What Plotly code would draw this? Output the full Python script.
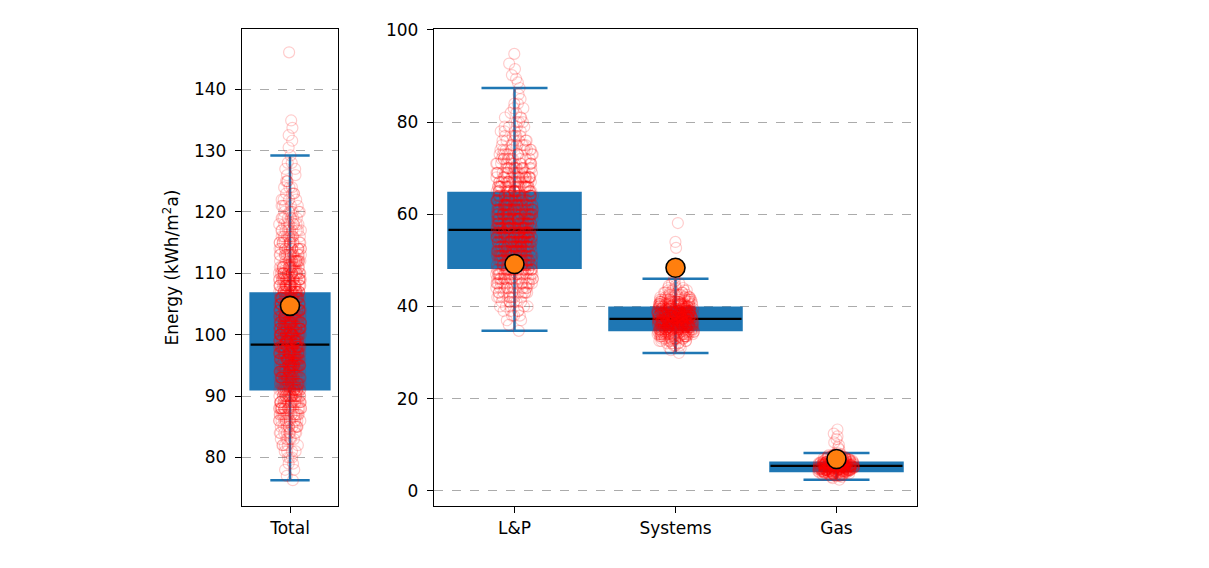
import plotly.graph_objects as go

# ---------------- data ----------------
total_labels = ["Total"]
parts_labels = ["L&P", "Systems", "Gas"]

total_q1 = [91.1]
total_median = [98.4]
total_q3 = [106.7]
total_whisker_low = [76.3]
total_whisker_high = [129.2]
total_actual = [104.7]

parts_q1 = [48.4, 34.9, 4.3]
parts_median = [56.6, 37.3, 5.4]
parts_q3 = [64.6, 39.7, 6.1]
parts_whisker_low = [34.7, 29.9, 2.4]
parts_whisker_high = [87.4, 46.0, 8.2]
parts_actual = [49.2, 48.4, 6.9]

# sample clouds, estimated as value -> number of samples, plus single outliers
total_values = [76.3, 77, 78, 79, 80, 81, 82, 83, 84, 85,
                86, 87, 88, 89, 90, 91, 92, 93, 94, 95,
                96, 97, 98, 99, 100, 101, 102, 103, 104, 105,
                106, 107, 108, 109, 110, 111, 112, 113, 114, 115,
                116, 117, 118, 119, 120, 121, 122, 123, 124, 125,
                126, 127, 128, 129.2]
total_counts = [1, 1, 2, 2, 3, 4, 5, 6, 8, 10,
                12, 15, 17, 20, 22, 25, 27, 29, 31, 33,
                34, 35, 36, 36, 35, 35, 34, 33, 32, 30,
                29, 27, 25, 23, 21, 19, 17, 15, 13, 12,
                10, 9, 8, 7, 6, 5, 4, 4, 3, 3,
                2, 2, 2, 1]
total_outliers = [130.5, 131.6, 132.5, 133.7, 134.9, 146.0]

lp_values = [34.7, 36, 37, 38, 39, 40, 41, 42, 43, 44,
             45, 46, 47, 48, 49, 50, 51, 52, 53, 54,
             55, 56, 57, 58, 59, 60, 61, 62, 63, 64,
             65, 66, 67, 68, 69, 70, 71, 72, 73, 74,
             75, 76, 77, 78, 79, 80, 81, 82, 83, 84,
             85, 86, 87.4]
lp_counts = [1, 1, 2, 3, 4, 5, 6, 8, 10, 12,
             14, 17, 19, 21, 24, 26, 28, 30, 31, 32,
             33, 33, 33, 32, 31, 30, 29, 27, 25, 24,
             22, 20, 18, 16, 14, 13, 11, 10, 9, 8,
             7, 6, 5, 4, 4, 3, 3, 2, 2, 2,
             1, 1, 1]
lp_outliers = [88.6, 89.4, 90.2, 91.5, 92.7, 94.8]

systems_values = [29.9, 30.5, 31.0, 31.5, 32.0, 32.5, 33.0, 33.5, 34.0, 34.5,
                  35.0, 35.5, 36.0, 36.5, 37.0, 37.5, 38.0, 38.5, 39.0, 39.5,
                  40.0, 40.5, 41.0, 41.5, 42.0, 42.5, 43.0, 43.5, 44.0, 44.5,
                  45.0, 45.5, 46.0]
systems_counts = [1, 1, 2, 3, 5, 7, 10, 13, 17, 21,
                  25, 29, 32, 34, 35, 35, 34, 32, 29, 26,
                  22, 18, 15, 12, 9, 7, 5, 4, 3, 2,
                  2, 1, 1]
systems_outliers = [47.2, 47.9, 52.7, 54.0, 58.1]

gas_values = [2.4, 2.75, 3.0, 3.25, 3.5, 3.75, 4.0, 4.25, 4.5, 4.75,
              5.0, 5.25, 5.5, 5.75, 6.0, 6.25, 6.5, 6.75, 7.0, 7.25,
              7.5, 7.75, 8.0, 8.2]
gas_counts = [1, 1, 2, 4, 6, 9, 13, 17, 21, 24,
              26, 27, 27, 26, 23, 20, 16, 12, 9, 7,
              5, 4, 2, 1]
gas_outliers = [9.0, 9.4, 9.9, 10.5, 11.2, 11.8, 12.4, 13.3]

total_ticks = [80, 90, 100, 110, 120, 130, 140]
parts_ticks = [0, 20, 40, 60, 80, 100]

# ---------------- style ----------------
BLUE = "#1f77b4"
ORANGE = "#ff7f0e"
BOX_W = 0.82
JITTER = 0.28
FONT = "DejaVu Sans"
W, H = 1209, 568


def expand(values, counts, extra):
    out = []
    for v, c in zip(values, counts):
        out += [v] * c
    return out + list(extra)


fig = go.Figure()


def add_group(xa, ya, labels, q1, med, q3, lo, hi, actual, samples):
    pos = [i + 1 for i in range(len(labels))]
    # box + whiskers
    fig.add_trace(go.Box(
        x=pos, q1=q1, median=med, q3=q3, lowerfence=lo, upperfence=hi,
        fillcolor=BLUE, line=dict(color=BLUE, width=2.5), whiskerwidth=0.5,
        width=BOX_W, boxpoints=False, xaxis=xa, yaxis=ya, hoverinfo="skip",
    ))
    # black median line (flat box)
    fig.add_trace(go.Box(
        x=pos, q1=med, median=med, q3=med, lowerfence=med, upperfence=med,
        fillcolor="black", line=dict(color="black", width=2.2), whiskerwidth=0,
        width=BOX_W, boxpoints=False, xaxis=xa, yaxis=ya, hoverinfo="skip",
    ))
    # jittered samples, one trace per category
    for p, s in zip(pos, samples):
        fig.add_trace(go.Box(
            x=[p] * len(s), y=s, boxpoints="all", jitter=JITTER, pointpos=0,
            width=BOX_W, fillcolor="rgba(0,0,0,0)",
            line=dict(color="rgba(0,0,0,0)", width=0),
            marker=dict(symbol="circle-open", color="red", size=11, opacity=0.2,
                        line=dict(width=1.2, color="red")),
            xaxis=xa, yaxis=ya, hoverinfo="skip",
        ))
    # actual values
    fig.add_trace(go.Scatter(
        x=pos, y=actual, mode="markers",
        marker=dict(size=19, color=ORANGE, line=dict(color="black", width=1.6)),
        xaxis=xa, yaxis=ya, hoverinfo="skip",
    ))


add_group("x", "y", total_labels, total_q1, total_median, total_q3,
          total_whisker_low, total_whisker_high, total_actual,
          [expand(total_values, total_counts, total_outliers)])
add_group("x2", "y2", parts_labels, parts_q1, parts_median, parts_q3,
          parts_whisker_low, parts_whisker_high, parts_actual,
          [expand(lp_values, lp_counts, lp_outliers),
           expand(systems_values, systems_counts, systems_outliers),
           expand(gas_values, gas_counts, gas_outliers)])

ydom = [1 - 506 / H, 1 - 29 / H]
axis_common = dict(showline=True, mirror=True, linecolor="black", linewidth=1.4,
                   ticks="outside", ticklen=6, tickwidth=1.4, tickcolor="black",
                   zeroline=False, automargin=False,
                   tickfont=dict(family=FONT, size=17, color="black"))
grid = dict(showgrid=True, gridcolor="#ababab", griddash="dash", gridwidth=1.2)

fig.update_layout(
    width=W, height=H, margin=dict(l=0, r=0, t=0, b=0),
    paper_bgcolor="white", plot_bgcolor="white",
    showlegend=False, boxmode="overlay",
    font=dict(family=FONT, size=17, color="black"),
    xaxis=dict(domain=[242 / W, 338 / W], range=[0.5, 1.5],
               tickvals=[i + 1 for i in range(len(total_labels))],
               ticktext=total_labels, showgrid=False, anchor="y", **axis_common),
    yaxis=dict(domain=ydom, range=[72.1, 149.8], tickvals=total_ticks,
               anchor="x", ticklabelstandoff=5,
               title=dict(text="Energy (kWh/m<sup>2</sup>a)", standoff=10,
                          font=dict(family=FONT, size=17, color="black")),
               **grid, **axis_common),
    xaxis2=dict(domain=[434 / W, 917 / W], range=[0.5, 3.5],
                tickvals=[i + 1 for i in range(len(parts_labels))],
                ticktext=parts_labels, showgrid=False, anchor="y2", **axis_common),
    yaxis2=dict(domain=ydom, range=[-3.3, 100.2], tickvals=parts_ticks,
                anchor="x2", ticklabelstandoff=5, **grid, **axis_common),
)

fig.write_html("out.html")
